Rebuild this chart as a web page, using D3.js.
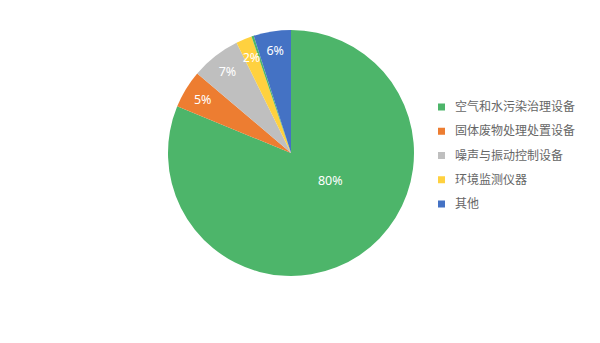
<!DOCTYPE html>
<html>
<head>
<meta charset="utf-8">
<script src="https://cdn.jsdelivr.net/npm/d3@7"></script>
<style>
  body { margin: 0; background: #fff; }
  svg { display: block; }
</style>
</head>
<body>
<script>
var categories = ["空气和水污染治理设备", "固体废物处理处置设备", "噪声与振动控制设备", "环境监测仪器", "", "其他"];
var values = [81.2, 5.0, 6.5, 2.1, 0.3, 4.9];
var labels = ["80%", "5%", "7%", "2%", "", "6%"];
var colours = ["#4DB56A", "#ED7D31", "#BFBFBF", "#FFD13F", "#4DB56A", "#4472C4"];

var totalWidth = 600, totalHeight = 343;
var cx = 291, cy = 153, radius = 123;

var svg = d3.select("body").append("svg")
  .attr("width", totalWidth)
  .attr("height", totalHeight);

var pie = d3.pie().sort(null).value(function(d) { return d; });
var arcs = pie(values);
var arc = d3.arc().innerRadius(0).outerRadius(radius);

var g = svg.append("g").attr("transform", "translate(" + cx + "," + cy + ")");

g.selectAll(".slice").data(arcs).enter().append("path")
  .attr("class", "slice")
  .attr("d", arc)
  .attr("fill", function(d, i) { return colours[i]; });

// etichette: fetta grande spostata verso il centro, le altre vicino al bordo
var labelArc = d3.arc().innerRadius(radius * 0.84).outerRadius(radius * 0.84);
g.selectAll(".lbl").data(arcs).enter().append("text")
  .attr("class", "lbl")
  .attr("transform", function(d) {
    if (d.endAngle - d.startAngle > Math.PI) {
      var a = (d.startAngle + d.endAngle) / 2 - 0.37, r = radius * 0.39;
      return "translate(" + (Math.sin(a) * r) + "," + (-Math.cos(a) * r) + ")";
    }
    return "translate(" + labelArc.centroid(d) + ")";
  })
  .attr("text-anchor", "middle")
  .attr("dy", "0.35em")
  .attr("fill", "#fff")
  .attr("font-size", "12.5px")
  .style("font-family", "'Noto Sans', 'Noto Sans CJK SC', sans-serif")
  .text(function(d, i) { return labels[i]; });

// legenda
var legendItems = categories.map(function(c, i) { return {name: c, colour: colours[i]}; })
  .filter(function(d) { return d.name !== ""; });
var legendY = d3.scalePoint().domain(d3.range(legendItems.length)).range([107, 204]);

var legend = svg.selectAll(".legend").data(legendItems).enter().append("g")
  .attr("class", "legend")
  .attr("transform", function(d, i) { return "translate(438," + legendY(i) + ")"; });

legend.append("rect")
  .attr("x", 0).attr("y", -3.5)
  .attr("width", 7).attr("height", 7)
  .attr("fill", function(d) { return d.colour; });

legend.append("text")
  .attr("x", 17)
  .attr("dy", "0.35em")
  .attr("font-size", "12px")
  .attr("fill", "#666")
  .style("font-family", "'Noto Sans CJK SC', sans-serif")
  .text(function(d) { return d.name; });
</script>
</body>
</html>
